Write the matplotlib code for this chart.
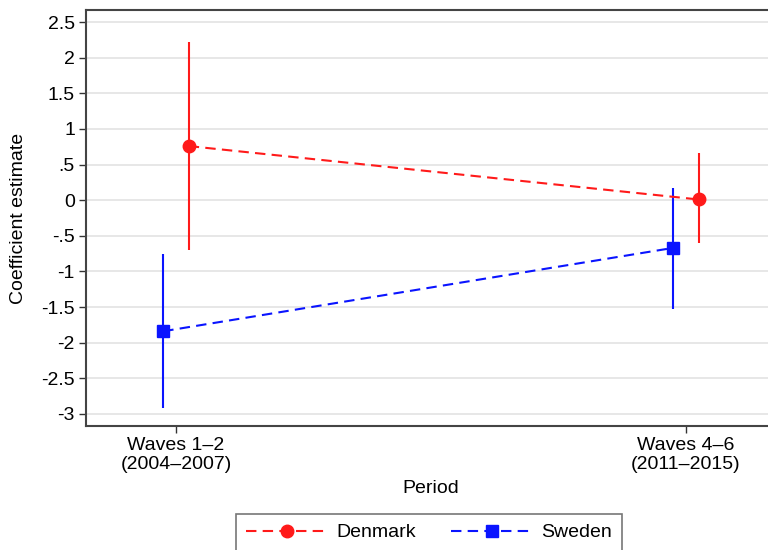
import numpy as np
import matplotlib.pyplot as plt

plt.rcParams['font.family'] = ['Liberation Sans', 'DejaVu Sans']

periods = ['Waves 1–2\n(2004–2007)', 'Waves 4–6\n(2011–2015)']
yticks = [-3, -2.5, -2, -1.5, -1, -0.5, 0, 0.5, 1, 1.5, 2, 2.5]
ytick_labels = ['-3', '-2.5', '-2', '-1.5', '-1', '-.5', '0', '.5', '1', '1.5', '2', '2.5']

denmark_est = [0.76, 0.01]
denmark_lo = [-0.70, -0.60]
denmark_hi = [2.22, 0.66]

sweden_est = [-1.84, -0.67]
sweden_lo = [-2.92, -1.53]
sweden_hi = [-0.75, 0.17]

red = '#ff1a1a'
blue = '#0a14ff'
fs = 14

fig = plt.figure(figsize=(7.68, 5.5), dpi=100)
ax = fig.add_axes([86 / 768, 124 / 550, 690 / 768, 416 / 550])

x = np.arange(1, len(periods) + 1)
off = 0.025

def draw(xpos, est, lo, hi, color, marker, label):
    ax.vlines(xpos, lo, hi, color=color, linewidth=1.5, zorder=3)
    ax.plot(xpos, est, linestyle=(0, (5, 3)), color=color, linewidth=1.5,
            marker=marker, markersize=9 if marker == 'o' else 8.5, label=label, zorder=4)

draw(x + off, denmark_est, denmark_lo, denmark_hi, red, 'o', 'Denmark')
draw(x - off, sweden_est, sweden_lo, sweden_hi, blue, 's', 'Sweden')

ax.set_xlim(0.8235, 2.177)
ax.set_ylim(-3.17, 2.67)
ax.set_xticks(x)
ax.set_xticklabels(periods, fontsize=fs, linespacing=1.15)
ax.set_yticks(yticks)
ax.set_yticklabels(ytick_labels, fontsize=fs)
ax.yaxis.grid(True, color='#e3e3e3', linewidth=1.2)
ax.set_axisbelow(True)
ax.tick_params(axis='both', length=5, width=1, color='#333333', pad=3)
for s in ax.spines.values():
    s.set_color('#444444')
    s.set_linewidth(1.5)
ax.set_xlabel('Period', fontsize=fs, labelpad=5)
ax.set_ylabel('Coefficient estimate', fontsize=fs, labelpad=10)

leg = ax.legend(loc='upper left', bbox_to_anchor=(236 / 768, 36 / 550), bbox_transform=fig.transFigure,
                ncol=2, fontsize=fs, frameon=True, fancybox=False, handlelength=4.2,
                columnspacing=1.8, borderpad=0.5, handletextpad=0.45, borderaxespad=0)
leg.get_frame().set_edgecolor('#555555')
leg.get_frame().set_linewidth(1.2)

fig.savefig('out.png', dpi=100)
